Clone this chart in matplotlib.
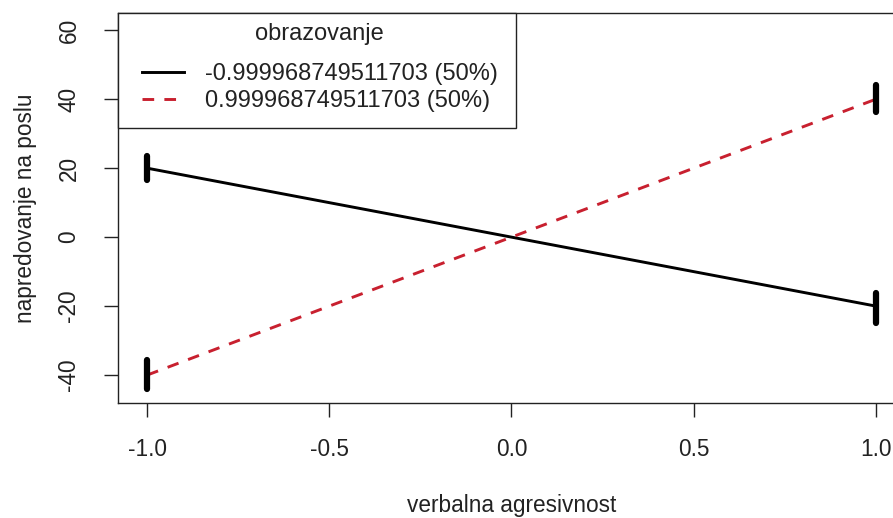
import numpy as np
import matplotlib.pyplot as plt
from matplotlib.patches import Rectangle

plt.rcParams['font.family'] = ['Liberation Sans', 'DejaVu Sans']

# predicted values at the two education levels
agresivnost = [-1.0, 0.0, 1.0]
nisko = [20.0, 0.0, -20.0]
visoko = [-40.0, 0.0, 40.0]
grupe = ["-0.999968749511703 (50%)", "0.999968749511703 (50%)"]

# spread of observed points at the ends (low, high)
rug_x = [-1.0, 1.0]
rug_nisko = [(16.6, 23.6), (-24.8, -16.2)]
rug_visoko = [(-44.0, -35.6), (36.4, 44.2)]

xticks = [-1.0, -0.5, 0.0, 0.5, 1.0]
yticks = [-40, -20, 0, 20, 40, 60]

W, H = 893, 518
fig = plt.figure(figsize=(W / 100, H / 100), dpi=100)
ax = fig.add_axes([118 / W, 1 - 403 / H, (905 - 118) / W, (403 - 13) / H])

crvena = '#c8202f'
ax.plot(agresivnost, nisko, color='black', lw=2.1, label=grupe[0])
ax.plot(agresivnost, visoko, color=crvena, lw=2.1, ls=(0, (4, 3.5)), label=grupe[1])

for x, (lo, hi) in zip(rug_x, rug_nisko):
    ax.plot([x, x], [lo, hi], color='black', lw=4.5, solid_capstyle='round')
for x, (lo, hi) in zip(rug_x, rug_visoko):
    ax.plot([x, x], [lo, hi], color='black', lw=4.5, solid_capstyle='round')

fs = 16.3
ax.set_xlim(-1.08, 1.08)
ax.set_ylim(-48.1, 65.0)
ax.set_xticks(xticks)
ax.set_xticklabels(["%.1f" % v for v in xticks])
ax.set_yticks(yticks)
ax.set_yticklabels([str(v) for v in yticks], rotation=90, va='center')
ax.tick_params(direction='out', length=10, width=1, labelsize=fs, color='#222222', labelcolor='#222222')
ax.tick_params(axis='x', pad=15)
ax.tick_params(axis='y', pad=17)
for s in ax.spines.values():
    s.set_linewidth(1)
    s.set_color('#222222')

ax.set_xlabel("verbalna agresivnost", fontsize=fs, labelpad=24, color='#222222')
ax.set_ylabel("napredovanje na poslu", fontsize=fs, labelpad=15, color='#222222')

# legend frame drawn as its own box, entries placed inside it
okvir = Rectangle((0, (403 - 128) / 390), (516 - 118) / 787, 1 - (403 - 128) / 390,
                  transform=ax.transAxes, facecolor='white', edgecolor='#222222',
                  lw=1, zorder=3, clip_on=False)
ax.add_patch(okvir)
leg = ax.legend(loc='upper left', bbox_to_anchor=((142 - 118) / 787, (403 - 23) / 390),
                title="obrazovanje", fontsize=17, title_fontsize=17, frameon=False,
                borderpad=0, borderaxespad=0, handlelength=1.8, handletextpad=0.85,
                labelspacing=0.2)
leg.set_zorder(4)
leg._legend_box.sep = 13
for t in leg.get_texts():
    t.set_color('#222222')
leg.get_title().set_color('#222222')

fig.savefig("out.png", dpi=100)
